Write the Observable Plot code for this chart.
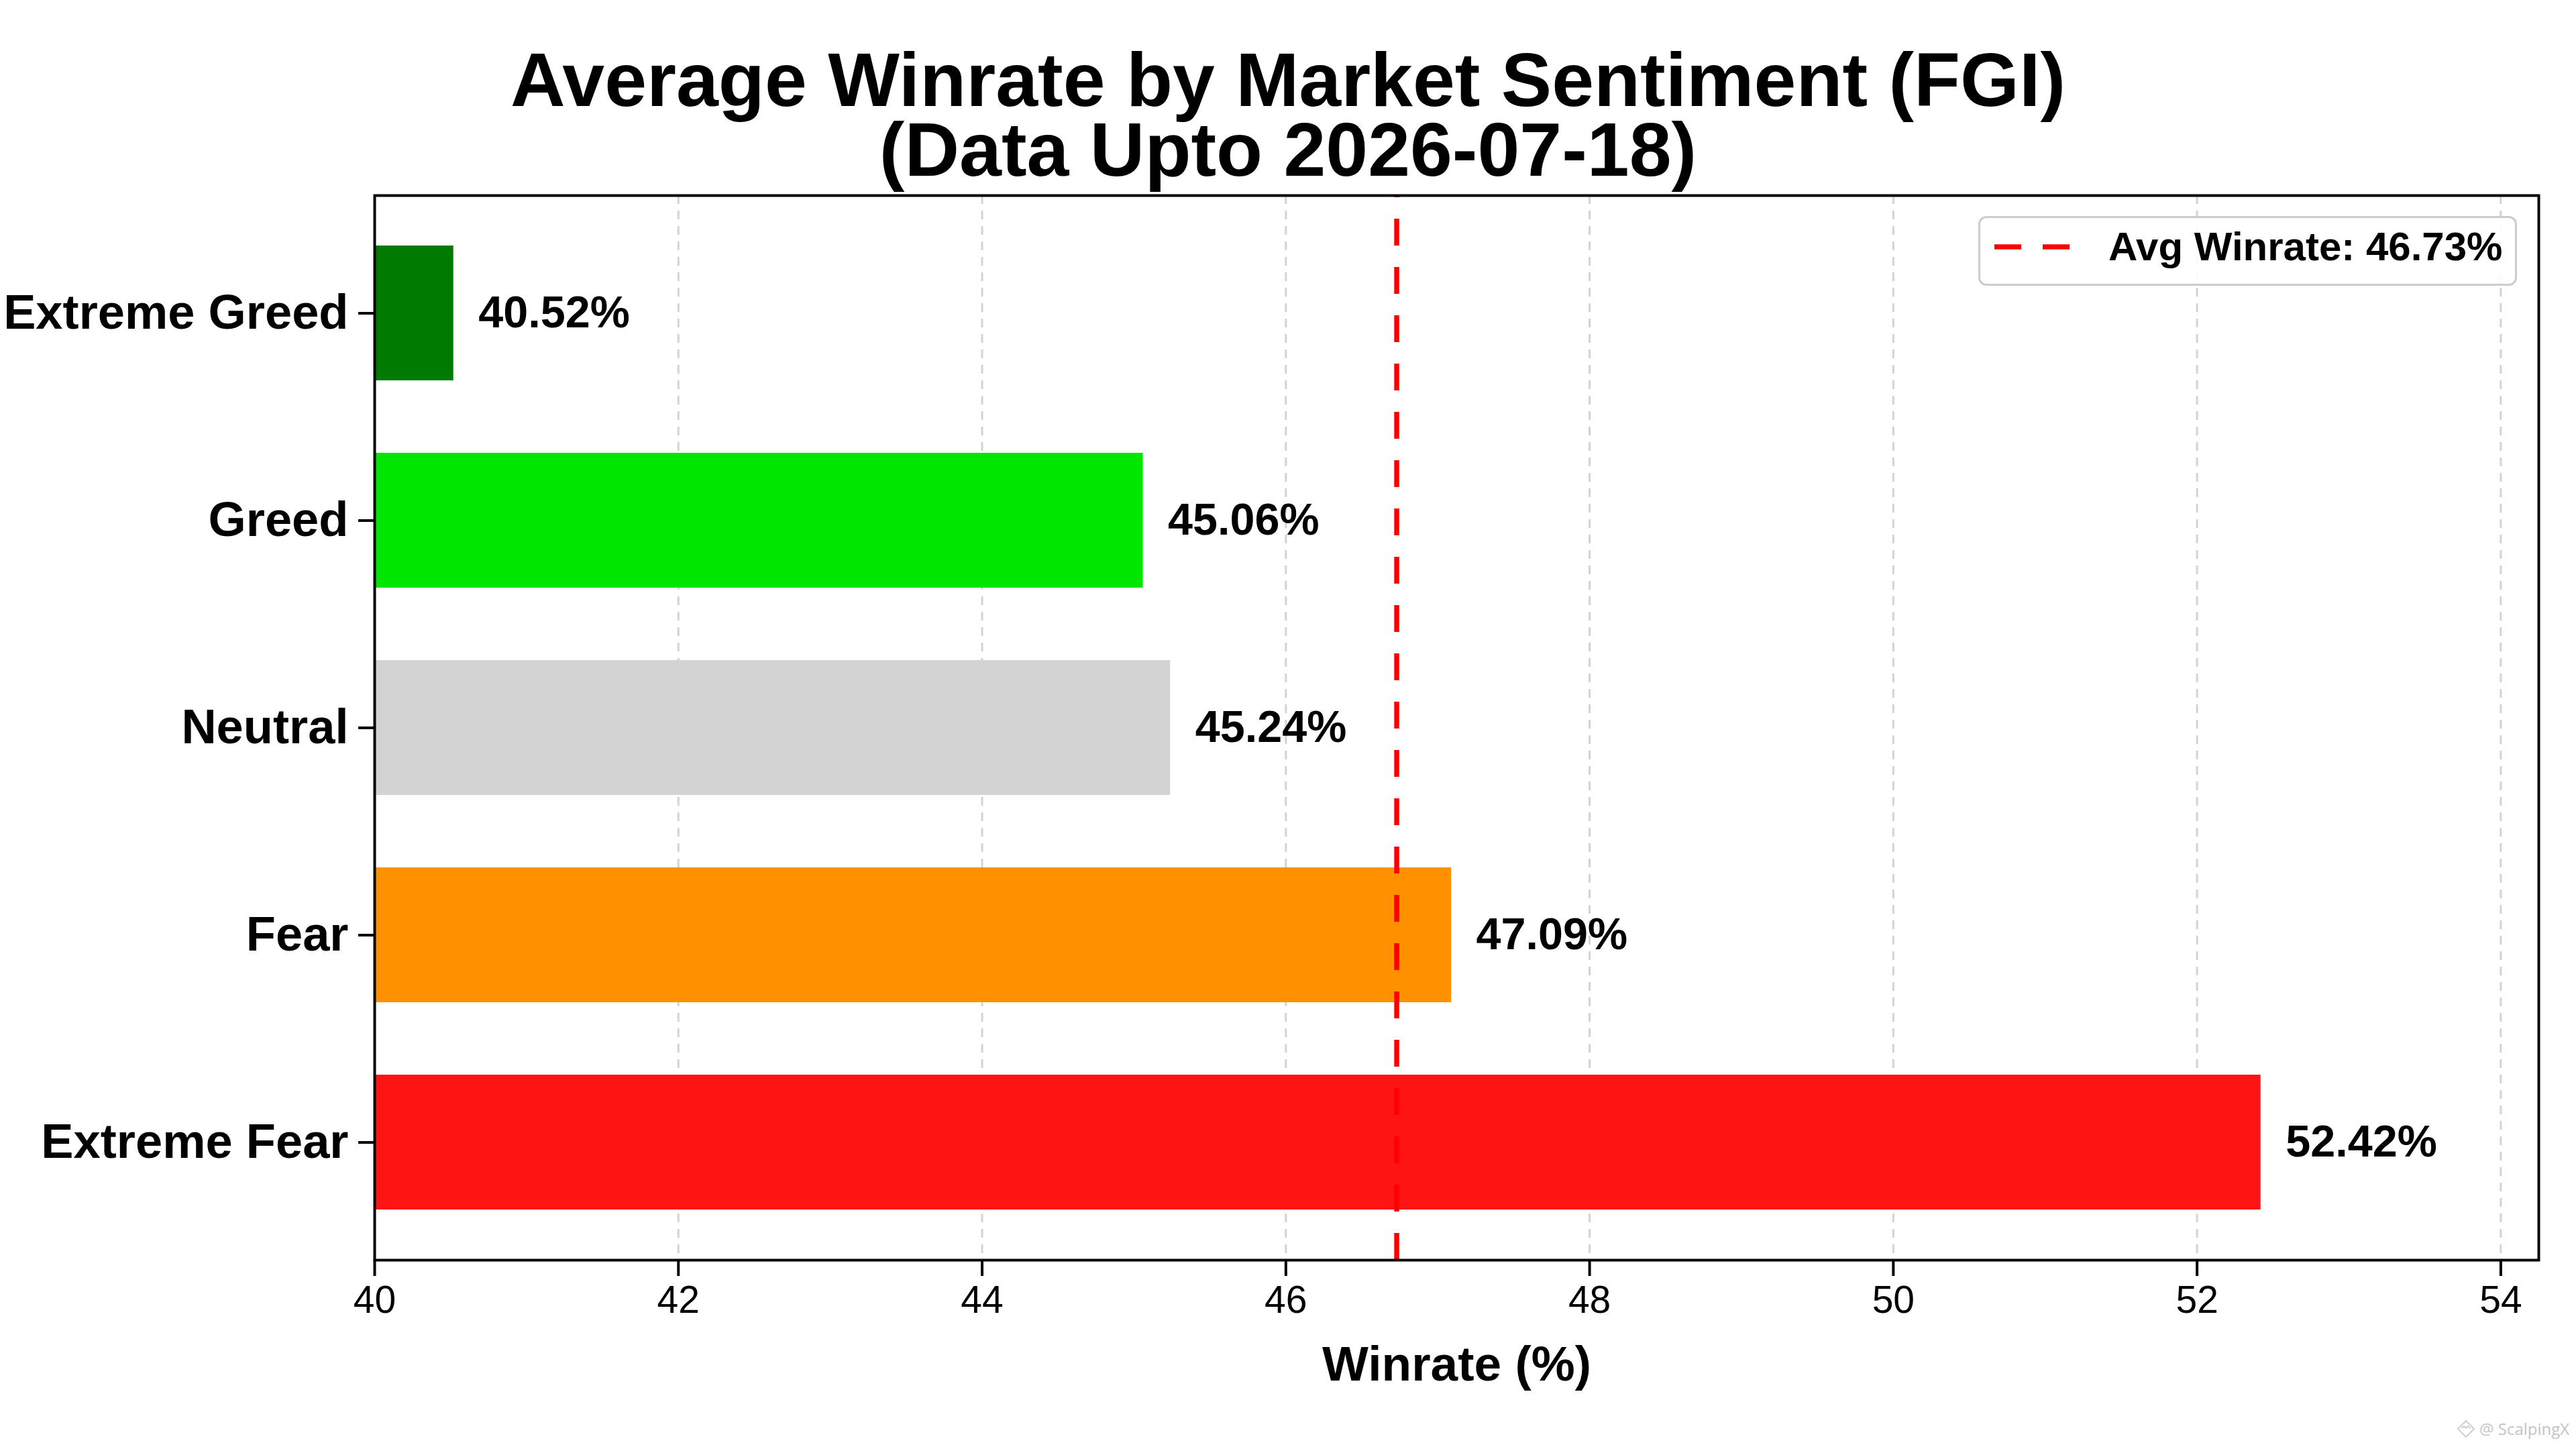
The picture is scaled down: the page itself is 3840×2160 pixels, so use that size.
<!DOCTYPE html>
<html>
<head>
<meta charset="utf-8">
<script src="https://cdn.jsdelivr.net/npm/d3@7"></script>
<script src="https://cdn.jsdelivr.net/npm/@observablehq/plot@0.6"></script>
<style>
  html, body { margin: 0; padding: 0; background: #fff; }
  #fig { position: relative; width: 3840px; height: 2160px; overflow: hidden; background: #fff;
         font-family: "Liberation Sans", Arial, sans-serif; color: #000; }
  #fig svg.chart { position: absolute; left: 0; top: 0; }
  .title { position: absolute; left: 0; width: 3840px; height: 104px; text-align: center; font-weight: bold;
           font-size: 113px; line-height: 104px; white-space: nowrap; }
  #legend { position: absolute; left: 2949px; top: 322px; width: 803px; height: 104px; box-sizing: border-box;
            border: 3px solid #cccccc; border-radius: 12px; background: rgba(255,255,255,0.9); }
  #legend svg { position: absolute; left: 0; top: 0; }
  #legend .lt { position: absolute; left: 191px; top: 13px; font-size: 60px; line-height: 60px; font-weight: bold; white-space: nowrap; }
  #wm { position: absolute; left: 3662px; top: 2116px; font-size: 24px; line-height: 28px; color: #c4c4c4; white-space: nowrap;
        font-family: "Open Sans", "Noto Sans", sans-serif; display: flex; align-items: center; gap: 6px; }
</style>
</head>
<body>
<div id="fig"></div>
<script>
// ---- data ----
const categories = ["Extreme Greed", "Greed", "Neutral", "Fear", "Extreme Fear"];
const winrates = [40.52, 45.06, 45.24, 47.09, 52.42];
const barColors = ["#007a00", "#00e600", "#d3d3d3", "#ff9100", "#ff1414"];
const avgWinrate = 46.73;
const xTicks = [40, 42, 44, 46, 48, 50, 52, 54];
const xDomain = [40, 54.25];
const titleLines = ["Average Winrate by Market Sentiment (FGI)", "(Data Upto 2026-07-18)"];
const xLabel = "Winrate (%)";
const legendLabel = "Avg Winrate: 46.73%";
const watermark = "@ ScalpingX";

const data = categories.map((c, i) => ({category: c, value: winrates[i], color: barColors[i]}));
const font = '"Liberation Sans", Arial, sans-serif';

const chart = Plot.plot({
  width: 3840,
  height: 2160,
  marginLeft: 558,
  marginRight: 56,
  marginTop: 291,
  marginBottom: 282,
  className: "chart",
  style: {fontFamily: font, background: "transparent", color: "#000", overflow: "visible"},
  x: {domain: xDomain, label: null},
  y: {domain: categories, paddingInner: 0.35, paddingOuter: 0.2363, label: null},
  color: {type: "identity"},
  marks: [
    Plot.ruleX(xTicks, {stroke: "#d3d3d3", strokeWidth: 3, strokeDasharray: "13,10"}),
    Plot.barX(data, {y: "category", x1: () => xDomain[0], x2: "value", fill: "color", inset: 0}),
    Plot.ruleX([avgWinrate], {stroke: "#ff0000", strokeWidth: 7.5, strokeDasharray: "40,32", strokeDashoffset: 37}),
    Plot.text(data, {y: "category", x: "value", text: d => d.value.toFixed(2) + "%", textAnchor: "start", lineAnchor: "middle",
                     dx: 37, fontSize: 66.5, fontWeight: "bold", fill: "#000"}),
    Plot.frame({stroke: "#000", strokeWidth: 4}),
    Plot.axisX(xTicks, {tickSize: 24, tickPadding: 14, strokeWidth: 4, fontSize: 57, tickFormat: d => String(d),
                        label: null, stroke: "#000", fill: "#000"}),
    Plot.axisY({tickSize: 24, tickPadding: 15, strokeWidth: 4, fontSize: 72.3, fontWeight: "bold", label: null, stroke: "#000", fill: "#000"}),
    Plot.text([xLabel], {frameAnchor: "bottom", lineAnchor: "middle", dy: 156, fontSize: 73, fontWeight: "bold", fill: "#000"})
  ]
});

const fig = document.getElementById("fig");
fig.appendChild(chart);
d3.select(chart).selectAll('g[aria-label="y-axis tick label"] text').attr("font-weight", "bold");

// title lines
titleLines.forEach((t, i) => {
  const div = document.createElement("div");
  div.className = "title";
  div.style.top = (67 + i * 104) + "px";
  div.textContent = t;
  fig.appendChild(div);
});

// legend
const legend = document.createElement("div");
legend.id = "legend";
legend.innerHTML = '<svg width="800" height="100"><line x1="21" x2="133" y1="43" y2="43" stroke="#ff0000" stroke-width="7.5" stroke-dasharray="40,32"/></svg>';
const lt = document.createElement("div");
lt.className = "lt";
lt.textContent = legendLabel;
legend.appendChild(lt);
fig.appendChild(legend);

// watermark
const wm = document.createElement("div");
wm.id = "wm";
wm.innerHTML = '<svg width="28" height="28" viewBox="0 0 28 28"><path d="M14 2 L26 14 L14 26 L2 14 Z" fill="none" stroke="#cfcfcf" stroke-width="2"/><path d="M7 13 L11 10 L14 13 L17 10 L21 13" fill="none" stroke="#cfcfcf" stroke-width="2"/></svg>';
const wmt = document.createElement("span");
wmt.textContent = watermark;
wm.appendChild(wmt);
fig.appendChild(wm);
</script>
</body>
</html>
